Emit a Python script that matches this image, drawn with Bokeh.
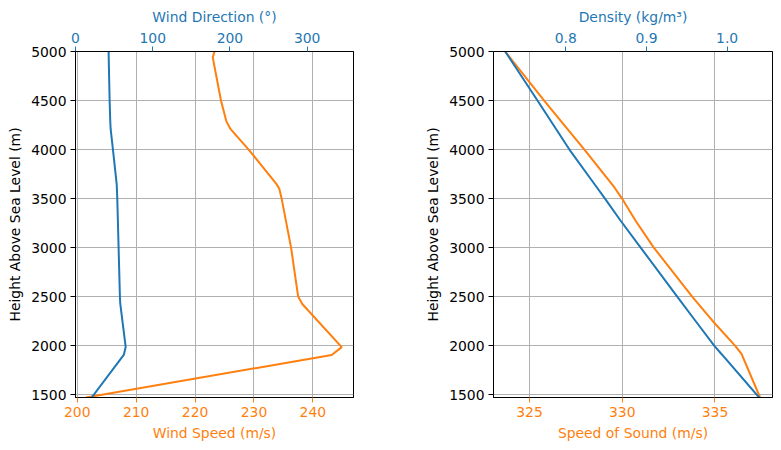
from bokeh.plotting import figure
from bokeh.models import Range1d, LinearAxis, FixedTicker
from bokeh.layouts import row
from bokeh.embed import file_html
from bokeh.resources import INLINE

BLUE = "#1f77b4"
ORANGE = "#ff7f0e"
FONT = "DejaVu Sans"
FS = "13.9px"

# ---- Data: left panel (wind) ----
wind_alt = [1471, 1905, 1985, 2425, 2500, 3000, 3500, 3600, 3650, 4000, 4210, 4290, 4500, 4940, 5000]
wind_speed = [201.5, 243.2, 244.9, 238.2, 237.5, 236.3, 234.7, 234.3, 233.8, 229.1, 226.0, 225.3, 224.4, 223.0, 223.3]
wind_dir = [20.9, 62.5, 65.0, 58.0, 57.5, 55.8, 54.1, 53.6, 53.3, 48.5, 45.5, 45.0, 44.2, 43.0, 42.9]

# ---- Data: right panel (atmosphere) ----
atm_alt = [1471, 1915, 2000, 2254, 2500, 3000, 3274, 3500, 3613, 4000, 4500, 5000]
sound_speed = [337.43, 336.43, 336.08, 334.86, 333.77, 331.70, 330.72, 329.99, 329.58, 327.96, 325.79, 323.69]
density = [1.0396, 0.9929, 0.9839, 0.9606, 0.9381, 0.8928, 0.8680, 0.8486, 0.8386, 0.8045, 0.7649, 0.7249]

y_ticks = [1500, 2000, 2500, 3000, 3500, 4000, 4500, 5000]
speed_ticks = [200, 210, 220, 230, 240]
dir_ticks = [0, 100, 200, 300]
sound_ticks = [325, 330, 335]
dens_ticks = [0.8, 0.9, 1.0]
dens_labels = {0.8: "0.8", 0.9: "0.9", 1.0: "1.0"}


def style_axis(ax, color, label_color):
    ax.axis_label_text_font = FONT
    ax.axis_label_text_font_size = FS
    ax.axis_label_text_font_style = "normal"
    ax.axis_label_text_color = label_color
    ax.major_label_text_font = FONT
    ax.major_label_text_font_size = FS
    ax.major_label_text_color = label_color
    ax.major_tick_line_color = color
    ax.major_tick_out = 5
    ax.major_tick_in = 0
    ax.minor_tick_line_color = None
    ax.axis_line_color = "black"
    ax.major_label_standoff = 4
    ax.axis_label_standoff = 5


def make_panel(xr, top_r, bl, fw, br, x_ticks, top_ticks, xlabel, toplabel,
               bottom_x, bottom_alt, top_x, top_alt, top_overrides=None):
    p = figure(frame_width=fw, frame_height=346,
               min_border_left=bl, min_border_right=br,
               min_border_top=51, min_border_bottom=53,
               x_range=Range1d(*xr), y_range=Range1d(1471, 5000),
               output_backend="svg", toolbar_location=None,
               background_fill_color="white", border_fill_color="white")
    p.outline_line_color = "black"
    p.outline_line_width = 1
    p.extra_x_ranges = {"top": Range1d(*top_r)}

    p.xaxis.ticker = FixedTicker(ticks=x_ticks)
    p.xaxis.axis_label = xlabel
    style_axis(p.xaxis[0], ORANGE, ORANGE)

    p.yaxis.ticker = FixedTicker(ticks=y_ticks)
    p.yaxis.axis_label = "Height Above Sea Level (m)"
    style_axis(p.yaxis[0], "black", "black")

    top = LinearAxis(x_range_name="top", axis_label=toplabel,
                     ticker=FixedTicker(ticks=top_ticks))
    style_axis(top, BLUE, BLUE)
    if top_overrides:
        top.major_label_overrides = top_overrides
    p.add_layout(top, "above")

    p.xgrid.grid_line_color = "#b0b0b0"
    p.ygrid.grid_line_color = "#b0b0b0"
    p.xgrid.grid_line_width = 1
    p.ygrid.grid_line_width = 1
    p.xgrid.ticker = FixedTicker(ticks=x_ticks)
    p.ygrid.ticker = FixedTicker(ticks=y_ticks)

    p.line(bottom_x, bottom_alt, color=ORANGE, line_width=2)
    p.line(top_x, top_alt, color=BLUE, line_width=2, x_range_name="top")
    return p


p1 = make_panel((199.7, 246.9), (0, 360), 75, 278, 37, speed_ticks, dir_ticks,
                "Wind Speed (m/s)", "Wind Direction (°)",
                wind_speed, wind_alt, wind_dir, wind_alt)
p2 = make_panel((323.06, 338.1), (0.7104, 1.0562), 103, 279, 9, sound_ticks, dens_ticks,
                "Speed of Sound (m/s)", "Density (kg/m³)",
                sound_speed, atm_alt, density, atm_alt, dens_labels)

layout = row(p1, p2)
open("out.html", "w").write(file_html(layout, INLINE))
